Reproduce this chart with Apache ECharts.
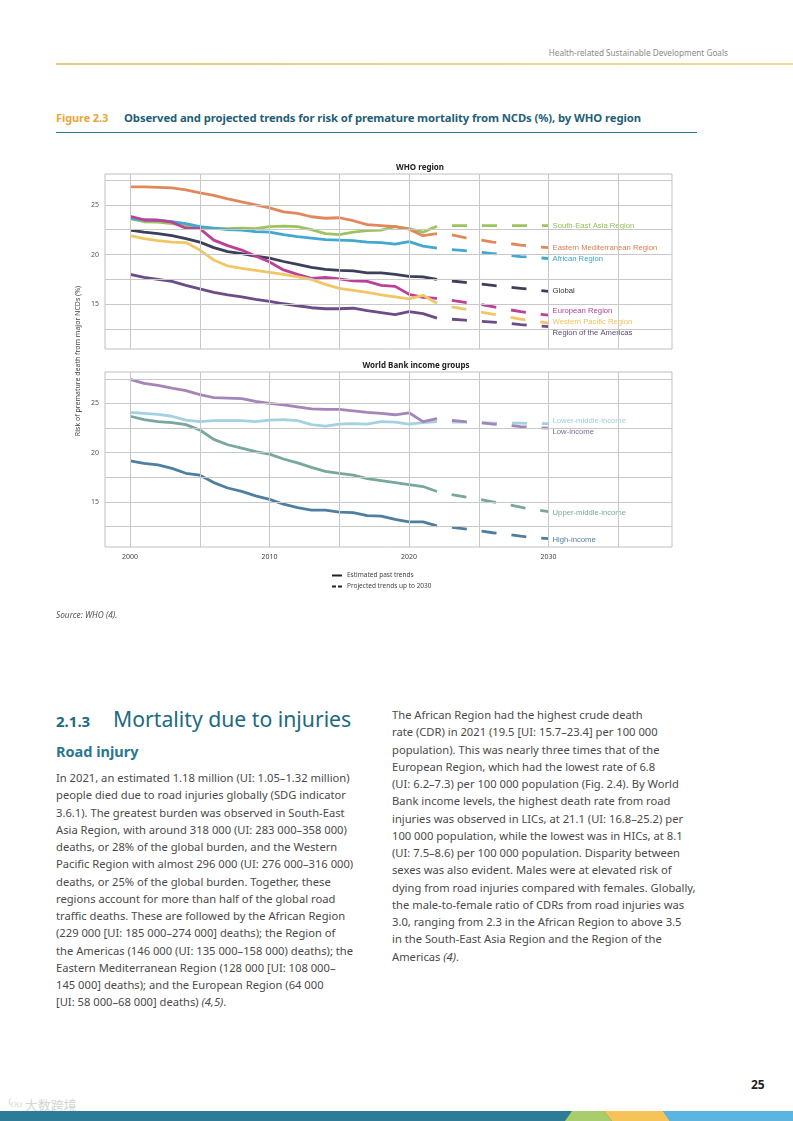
<!DOCTYPE html>
<html>
<head>
<meta charset="utf-8">
<script src="https://cdn.jsdelivr.net/npm/echarts@6/dist/echarts.min.js"></script>
<style>
  html, body { margin:0; padding:0; background:#fff; }
  body { width:793px; height:1121px; position:relative; overflow:hidden; font-family:"Noto Sans", "Open Sans", sans-serif; }
  #chart { position:absolute; left:0; top:140px; width:793px; height:480px; }
  .abs { position:absolute; white-space:nowrap; }
  .para { font-size:11.2px; line-height:17.25px; color:#4a4a4a; }
</style>
</head>
<body>
<div class="abs" style="right:65px; top:47px; font-size:8.2px; color:#8a8a8a;">Health-related Sustainable Development Goals</div>
<div class="abs" style="left:56px; top:63px; width:737px; height:1.5px; background:linear-gradient(90deg,#e8c982,#edd296 60%,#f0d9a4);"></div>

<div class="abs" style="left:56px; top:110px; font-size:11px; font-weight:700; color:#e8a63c; letter-spacing:-0.1px;">Figure 2.3</div>
<div class="abs" style="left:124px; top:110px; font-size:11.3px; font-weight:700; color:#1f5f78; letter-spacing:-0.1px;">Observed and projected trends for risk of premature mortality from NCDs (%), by WHO region</div>
<div class="abs" style="left:56px; top:131.5px; width:641px; height:1.5px; background:#2c7d90;"></div>

<div id="chart"></div>

<div class="abs" style="left:56px; top:609px; font-size:8.3px; font-style:italic; color:#555;">Source: WHO <i>(4)</i>.</div>

<div class="abs" style="left:56px; top:711px; font-size:15px; font-weight:700; color:#1d6a80;">2.1.3</div>
<div class="abs" style="left:113px; top:704px; font-size:21.2px; font-weight:400; color:#1d6a80;">Mortality due to injuries</div>
<div class="abs" style="left:56px; top:741px; font-size:14.5px; font-weight:700; color:#2a7790;">Road injury</div>
<div class="abs para" style="left:56px; top:769px;">In 2021, an estimated 1.18 million (UI: 1.05–1.32 million)<br>people died due to road injuries globally (SDG indicator<br>3.6.1). The greatest burden was observed in South-East<br>Asia Region, with around 318 000 (UI: 283 000–358 000)<br>deaths, or 28% of the global burden, and the Western<br>Pacific Region with almost 296 000 (UI: 276 000–316 000)<br>deaths, or 25% of the global burden. Together, these<br>regions account for more than half of the global road<br>traffic deaths. These are followed by the African Region<br>(229 000 [UI: 185 000–274 000] deaths); the Region of<br>the Americas (146 000 (UI: 135 000–158 000) deaths); the<br>Eastern Mediterranean Region (128 000 [UI: 108 000–<br>145 000] deaths); and the European Region (64 000<br>[UI: 58 000–68 000] deaths) <i>(4,5)</i>.</div>

<div class="abs para" style="left:392px; top:706px;">The African Region had the highest crude death<br>rate (CDR) in 2021 (19.5 [UI: 15.7–23.4] per 100 000<br>population). This was nearly three times that of the<br>European Region, which had the lowest rate of 6.8<br>(UI: 6.2–7.3) per 100 000 population (Fig. 2.4). By World<br>Bank income levels, the highest death rate from road<br>injuries was observed in LICs, at 21.1 (UI: 16.8–25.2) per<br>100 000 population, while the lowest was in HICs, at 8.1<br>(UI: 7.5–8.6) per 100 000 population. Disparity between<br>sexes was also evident. Males were at elevated risk of<br>dying from road injuries compared with females. Globally,<br>the male-to-female ratio of CDRs from road injuries was<br>3.0, ranging from 2.3 in the African Region to above 3.5<br>in the South-East Asia Region and the Region of the<br>Americas <i>(4)</i>.</div>

<div class="abs" style="left:751px; top:1076px; font-size:12px; font-weight:700; color:#222;">25</div>
<div class="abs" style="left:8px; top:1095px; font-size:13px; color:#d4d4d4; font-family:'Noto Sans CJK SC';">⁽ᴼᴼ 大数跨境</div>

<svg class="abs" style="left:0; top:1111px;" width="793" height="10">
  <rect x="0" y="0" width="793" height="10" fill="#2c7c97"/>
  <polygon points="572,0 604,0 612,10 565,10" fill="#a8cd6c"/>
  <polygon points="604,0 663,0 670,10 612,10" fill="#f5c358"/>
  <polygon points="663,0 793,0 793,10 670,10" fill="#5cb5e1"/>
</svg>

<script>
// ---------- DATA ----------
const pastYears = [2000,2001,2002,2003,2004,2005,2006,2007,2008,2009,2010,2011,2012,2013,2014,2015,2016,2017,2018,2019,2020,2021,2022];
const projYears = [2022,2023,2024,2025,2026,2027,2028,2029,2030];
const xTickLabels = [2000, 2010, 2020, 2030];
const yTickLabels = [15, 20, 25];
const yGridValues = [12.5, 15, 17.5, 20, 22.5, 25, 27.5];
const xGridValues = [2000, 2005, 2010, 2015, 2020, 2025, 2030, 2035];

// WHO regions
const searPast = [23.6,23.3,23.25,23.1,22.9,22.6,22.6,22.6,22.65,22.6,22.8,22.85,22.8,22.5,22.1,22.0,22.25,22.4,22.45,22.8,22.6,22.25,22.85];
const searProj = [22.85,22.9,22.9,22.9,22.9,22.9,22.9,22.9,22.9];
const emrPast  = [26.8,26.8,26.75,26.7,26.5,26.2,25.95,25.6,25.3,25.0,24.7,24.3,24.15,23.8,23.65,23.7,23.4,23.0,22.9,22.8,22.55,21.9,22.1];
const emrProj  = [22.1,22.0,21.7,21.5,21.25,21.15,20.95,20.8,20.7];
const afrPast  = [23.65,23.45,23.45,23.3,23.1,22.8,22.65,22.5,22.45,22.3,22.25,22.0,21.8,21.65,21.5,21.45,21.4,21.25,21.2,21.05,21.3,20.85,20.65];
const afrProj  = [20.65,20.5,20.4,20.25,20.1,19.95,19.8,19.7,19.6];
const globPast = [22.45,22.25,22.1,21.9,21.6,21.25,20.7,20.3,20.1,19.85,19.65,19.3,19.0,18.7,18.5,18.4,18.35,18.15,18.15,18.0,17.8,17.75,17.5];
const globProj = [17.5,17.35,17.2,17.05,16.9,16.75,16.6,16.45,16.3];
const eurPast  = [23.85,23.5,23.45,23.25,22.65,22.6,21.45,20.9,20.45,19.85,19.25,18.45,18.0,17.6,17.7,17.55,17.35,17.3,16.9,16.8,16.0,15.7,15.6];
const eurProj  = [15.6,15.4,15.2,15.0,14.75,14.5,14.25,14.05,13.9];
const wprPast  = [21.9,21.6,21.4,21.25,21.2,20.45,19.45,18.85,18.6,18.4,18.2,18.0,17.75,17.5,17.0,16.6,16.4,16.2,15.95,15.75,15.55,15.9,15.1];
const wprProj  = [15.1,14.75,14.5,14.25,14.0,13.75,13.5,13.3,13.1];
const amrPast  = [18.0,17.7,17.5,17.3,16.9,16.55,16.2,15.95,15.75,15.5,15.3,15.05,14.85,14.65,14.55,14.55,14.6,14.35,14.15,13.95,14.25,14.05,13.6];
const amrProj  = [13.6,13.5,13.4,13.3,13.2,13.1,12.95,12.85,12.75];

// World Bank income groups
const lowPast   = [27.45,27.05,26.85,26.55,26.3,25.9,25.6,25.55,25.5,25.2,25.0,24.85,24.65,24.45,24.4,24.4,24.25,24.1,24.0,23.85,24.05,23.15,23.45];
const lowProj   = [23.45,23.3,23.15,23.05,22.9,22.8,22.65,22.55,22.5];
const lmicPast  = [24.1,24.0,23.9,23.7,23.3,23.15,23.25,23.25,23.25,23.15,23.3,23.35,23.25,22.85,22.7,22.9,22.95,22.9,23.15,23.1,22.9,23.05,23.15];
const lmicProj  = [23.15,23.1,23.1,23.05,23.0,23.0,23.0,22.95,22.95];
const umicPast  = [23.7,23.35,23.15,23.05,22.85,22.3,21.35,20.8,20.45,20.1,19.85,19.35,18.95,18.5,18.1,17.9,17.7,17.35,17.15,16.95,16.75,16.55,16.05];
const umicProj  = [16.05,15.75,15.5,15.25,15.0,14.75,14.45,14.2,14.0];
const highPast  = [19.15,18.9,18.75,18.4,17.9,17.7,16.95,16.4,16.05,15.6,15.25,14.75,14.4,14.15,14.15,13.95,13.9,13.6,13.55,13.2,12.95,12.95,12.55];
const highProj  = [12.55,12.4,12.25,12.05,11.85,11.7,11.5,11.35,11.25];

// ---------- BUILD ----------
const zip = (xs, ys) => xs.map((x, i) => [x, ys[i]]);
const regionFont = '"Liberation Sans", Arial, sans-serif';
const baseFont = '"Noto Sans", sans-serif';

function pair(name, past, proj, color, labelColor, dy, gi) {
  return [
    { name: name, type: 'line', xAxisIndex: gi, yAxisIndex: gi, data: zip(pastYears, past),
      symbol: 'none', z: 3, color: color, lineStyle: { color: color, width: 2.8 }, silent: true },
    { name: name, type: 'line', xAxisIndex: gi, yAxisIndex: gi, data: zip(projYears, proj),
      symbol: 'none', z: 3, color: color,
      lineStyle: { color: color, width: 2.8, type: [15, 15], dashOffset: 15 }, silent: true,
      endLabel: { show: true, formatter: '{a}', color: labelColor, fontSize: 7.7, fontFamily: regionFont,
                  distance: 4, offset: [0, dy] } }
  ];
}

function gridSeries(gi) {
  return {
    type: 'line', xAxisIndex: gi, yAxisIndex: gi, data: [[2000, 20]], symbol: 'none',
    lineStyle: { opacity: 0 }, z: 1, silent: true,
    markLine: {
      silent: true, symbol: ['none', 'none'], label: { show: false }, animation: false,
      lineStyle: { color: '#c8c8c8', width: 1, type: 'solid' },
      data: yGridValues.map(v => ({ yAxis: v })).concat(xGridValues.map(v => ({ xAxis: v })))
    }
  };
}

const xBase = { type: 'value', min: 1998.2, max: 2038.85,
  axisLine: { show: false }, axisTick: { show: false }, splitLine: { show: false } };
const yBase = { type: 'value',
  axisLine: { show: false }, axisTick: { show: false }, splitLine: { show: false },
  axisLabel: { customValues: yTickLabels, fontSize: 7, color: '#555', fontFamily: baseFont, margin: 6 } };

const G = 140; // chart div top offset
const option = {
  animation: false,
  grid: [
    { left: 105, top: 174 - G, width: 567, height: 175, show: true, borderColor: '#bfbfbf', borderWidth: 1 },
    { left: 105, top: 372 - G, width: 567, height: 175, show: true, borderColor: '#bfbfbf', borderWidth: 1 }
  ],
  xAxis: [
    Object.assign({}, xBase, { gridIndex: 0, axisLabel: { show: false } }),
    Object.assign({}, xBase, { gridIndex: 1, axisLabel: { customValues: xTickLabels, formatter: v => String(v),
      fontSize: 7, color: '#444', fontFamily: baseFont, margin: 6 } })
  ],
  yAxis: [
    Object.assign({}, yBase, { gridIndex: 0, min: 10.5, max: 28.1 }),
    Object.assign({}, yBase, { gridIndex: 1, min: 10.4, max: 28.2 })
  ],
  title: [
    { text: 'WHO region', left: 415, top: 159 - G, textAlign: 'center',
      textStyle: { fontSize: 8, fontWeight: 'bold', color: '#222', fontFamily: baseFont } },
    { text: 'World Bank income groups', left: 411, top: 357 - G, textAlign: 'center',
      textStyle: { fontSize: 8, fontWeight: 'bold', color: '#222', fontFamily: baseFont } }
  ],
  graphic: [
    { type: 'text', x: 78, y: 361 - G, rotation: Math.PI / 2,
      style: { text: 'Risk of premature death from major NCDs (%)', fontSize: 7, fill: '#444',
               fontFamily: baseFont, align: 'center', verticalAlign: 'middle' } }
  ],
  legend: {
    data: [
      { name: 'Estimated past trends', icon: 'path://M0,0 H10 V2 H0 Z' },
      { name: 'Projected trends up to 2030', icon: 'path://M0,0 H4 V2 H0 Z M6,0 H10 V2 H6 Z' }
    ],
    orient: 'vertical', left: 332, top: 572 - G, itemWidth: 10, itemHeight: 2, itemGap: 4,
    padding: 0, selectedMode: false,
    textStyle: { fontSize: 6.5, color: '#444', fontFamily: baseFont }
  },
  series: [
    gridSeries(0), gridSeries(1),
    { name: 'Estimated past trends', type: 'line', xAxisIndex: 0, yAxisIndex: 0, data: [], symbol: 'none',
      color: '#222', lineStyle: { color: '#222', width: 1.5 } },
    { name: 'Projected trends up to 2030', type: 'line', xAxisIndex: 0, yAxisIndex: 0, data: [], symbol: 'none',
      color: '#222', lineStyle: { color: '#222', width: 1.5, type: [3, 2] } },
    ...pair('South-East Asia Region', searPast, searProj, '#9cc35c', '#94bd55', 0, 0),
    ...pair('Eastern Mediterranean Region', emrPast, emrProj, '#e2875a', '#e07c4e', 0, 0),
    ...pair('African Region', afrPast, afrProj, '#41a8d0', '#3aa3cc', 0, 0),
    ...pair('Global', globPast, globProj, '#3c3f5a', '#333333', 0, 0),
    ...pair('European Region', eurPast, eurProj, '#bd3f98', '#b8409a', -4, 0),
    ...pair('Western Pacific Region', wprPast, wprProj, '#f1c664', '#eec15a', -1, 0),
    ...pair('Region of the Americas', amrPast, amrProj, '#6c4c86', '#5a4a78', 6.5, 0),
    ...pair('Lower-middle-income', lmicPast, lmicProj, '#a3d1e0', '#9fcde0', -3, 1),
    ...pair('Low-income', lowPast, lowProj, '#a585b9', '#7d6a90', 4, 1),
    ...pair('Upper-middle-income', umicPast, umicProj, '#77a79d', '#79a69c', 1, 1),
    ...pair('High-income', highPast, highProj, '#4d7fa0', '#4f7ea0', 1, 1)
  ]
};

const chart = echarts.init(document.getElementById('chart'), null, { renderer: 'canvas' });
chart.setOption(option);
</script>
</body>
</html>
